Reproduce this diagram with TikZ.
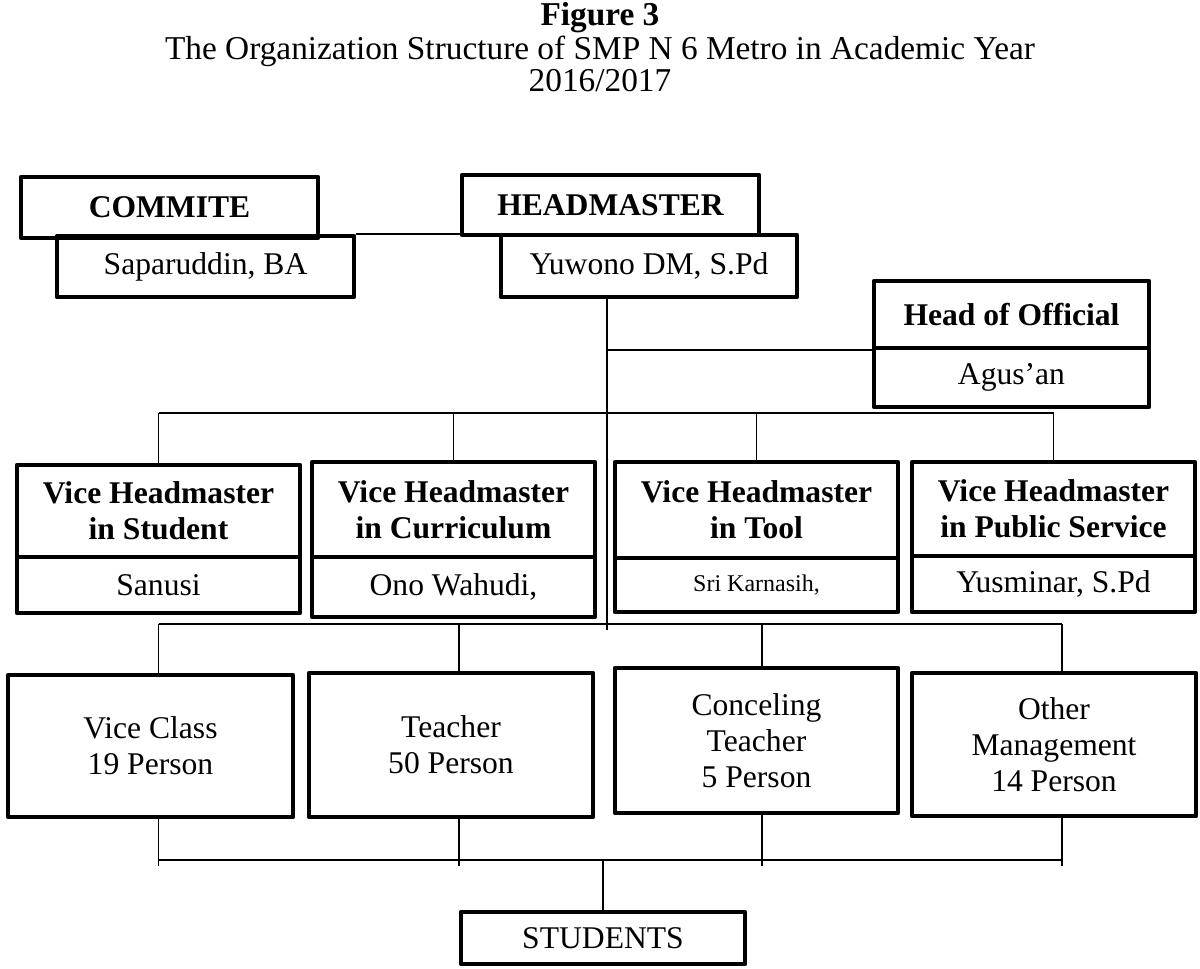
\documentclass[tikz,border=0pt]{standalone}
\usepackage{fontspec}
\setmainfont{Liberation Serif}
\tikzset{
  wh/.style 2 args={minimum width=#1*0.75pt, minimum height=#2*0.75pt},
  box/.style={draw, line width=3.2pt, line join=round, inner sep=0pt, align=center, font=\fontsize{23.7}{27}\selectfont},
  boldbox/.style={box, font=\fontsize{23.7}{27}\selectfont\bfseries},
  link/.style={line width=1pt},
}
\begin{document}
\begin{tikzpicture}[x=0.75pt,y=-0.75pt]
\useasboundingbox (0,0) rectangle (1200,968);

\node[font=\fontsize{25}{24}\selectfont\bfseries] (figure) at (600,18) {Figure 3};
\node[align=center, font=\fontsize{25}{24}\selectfont] (caption) at (600,64) {The Organization Structure of SMP N 6 Metro in Academic Year\\2016/2017};

\node[boldbox, wh={297}{61}] (commite) at (169.5,207.5) {COMMITE};
\node[box, wh={297}{61}] (saparuddin) at (205.5,266.5) {Saparuddin, BA};
\node[boldbox, wh={297}{60}] (head) at (610.5,205) {HEADMASTER};
\node[box, wh={296}{62}] (yuwono) at (649,266) {Yuwono DM, S.Pd};

\node[boldbox, wh={275}{67}] (official) at (1011.5,314.5) {Head of Official};
\node[box, wh={275}{59}] (agusan) at (1011.5,377.5) {Agus'an};

\node[boldbox, wh={283}{92}] (vstudent) at (158.5,511) {Vice Headmaster\\in Student};
\node[box, wh={283}{56}] (sanusi) at (158.5,585) {Sanusi};
\node[boldbox, wh={283}{95}] (vcurric) at (453.5,509.5) {Vice Headmaster\\in Curriculum};
\node[box, wh={283}{60}] (ono) at (453.5,587) {Ono Wahudi,};
\node[boldbox, wh={283}{96}] (vtool) at (756.5,510) {Vice Headmaster\\in Tool};
\node[box, wh={283}{54}, font=\fontsize{18}{20}\selectfont] (sri) at (756.5,585) {Sri Karnasih,};
\node[boldbox, wh={283}{94}] (vpublic) at (1053.5,509) {Vice Headmaster\\in Public Service};
\node[box, wh={283}{56}] (yusminar) at (1053.5,584) {Yusminar, S.Pd};

\node[box, wh={285}{142}] (viceclass) at (150.5,746) {Vice Class\\19 Person};
\node[box, wh={284}{144}] (teacher) at (451,745) {Teacher\\50 Person};
\node[box, wh={283}{145}] (conceling) at (756.5,740.5) {Conceling\\Teacher\\5 Person};
\node[box, wh={284}{143}] (other) at (1054,744.5) {Other\\Management\\14 Person};
\node[box, wh={284}{52}] (students) at (603,938) {STUDENTS};

% bus heights and the main line
\coordinate (vbus) at (0,413);
\coordinate (mbus) at (0,624);
\coordinate (sbus) at (0,860);
\coordinate (stick) at (0,866);
\coordinate (spine top) at (607,297);
\coordinate (spine end) at (607,630);

\draw[link] (saparuddin.north east) -- (saparuddin.north east -| head.west);
\draw[link] (spine top) -- (spine end);
\draw[link] (spine top |- official.south west) -- (official.south west);

\draw[link] (vstudent.north |- vbus) -- (vpublic.north |- vbus);
\draw[link] (vstudent.north) -- (vstudent.north |- vbus);
\draw[link] (vcurric.north) -- (vcurric.north |- vbus);
\draw[link] (vtool.north) -- (vtool.north |- vbus);
\draw[link] (vpublic.north) -- (vpublic.north |- vbus);

% lower rows hang a little right of the box middles
\draw[link] ([xshift=6pt]viceclass.north |- mbus) -- ([xshift=6pt]other.north |- mbus);
\draw[link] ([xshift=6pt]viceclass.north) -- ([xshift=6pt]viceclass.north |- mbus);
\draw[link] ([xshift=6pt]teacher.north) -- ([xshift=6pt]teacher.north |- mbus);
\draw[link] ([xshift=4pt]conceling.north) -- ([xshift=4pt]conceling.north |- mbus);
\draw[link] ([xshift=6pt]other.north) -- ([xshift=6pt]other.north |- mbus);

\draw[link] ([xshift=6pt]viceclass.south |- sbus) -- ([xshift=6pt]other.south |- sbus);
\draw[link] ([xshift=6pt]viceclass.south) -- ([xshift=6pt]viceclass.south |- stick);
\draw[link] ([xshift=6pt]teacher.south) -- ([xshift=6pt]teacher.south |- stick);
\draw[link] ([xshift=4pt]conceling.south) -- ([xshift=4pt]conceling.south |- stick);
\draw[link] ([xshift=6pt]other.south) -- ([xshift=6pt]other.south |- stick);
\draw[link] (students.north) -- (students.north |- sbus);

\end{tikzpicture}
\end{document}
